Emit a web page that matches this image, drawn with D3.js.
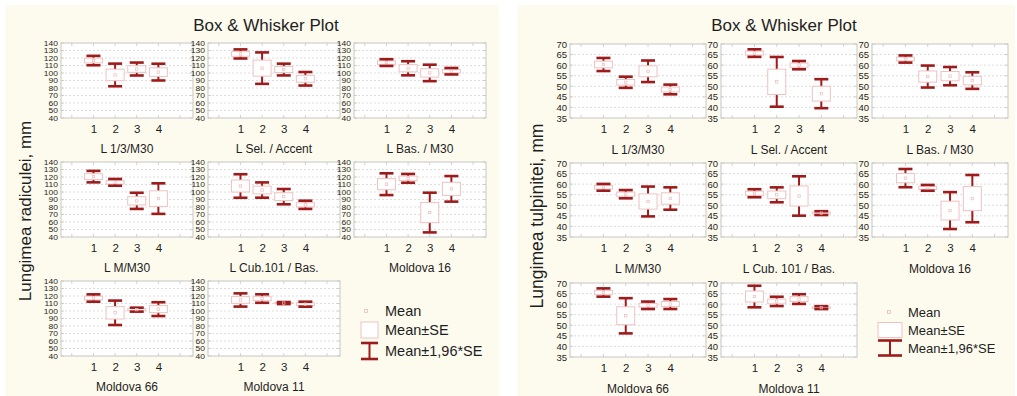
<!DOCTYPE html>
<html>
<head>
<meta charset="utf-8">
<script src="https://cdn.jsdelivr.net/npm/d3@7"></script>
<style>
  body { margin: 0; background: #ffffff; }
  svg { display: block; }
  text { font-family: "Liberation Sans", Arial, sans-serif; fill: #1e1e1e; }
</style>
</head>
<body>
<svg id="chart" width="1017" height="396"></svg>
<script>
// ---- data -------------------------------------------------------------
const categories = ["1", "2", "3", "4"];

const radicleGroups = ["L 1/3/M30", "L Sel. / Accent", "L Bas. / M30",
                       "L M/M30", "L Cub.101 / Bas.", "Moldova 16",
                       "Moldova 66", "Moldova 11"];
const stemGroups = ["L 1/3/M30", "L Sel. / Accent", "L Bas. / M30",
                    "L M/M30", "L Cub. 101 / Bas.", "Moldova 16",
                    "Moldova 66", "Moldova 11"];

// radicle length, mm: mean and standard error per group and category
const radicleMean = [
  [116.6,  97.4, 105.3, 101.2],
  [125.4, 106.5, 104.6,  92.3],
  [113.9, 106.3, 100.1, 102.4],
  [120.5, 112.9,  88.2,  91.2],
  [108.0, 102.6,  93.8,  82.9],
  [110.4, 118.2,  72.6, 104.2],
  [117.3,  97.6, 101.8, 102.5],
  [114.7, 116.6, 110.6, 109.1]
];
const radicleSE = [
  [3.2,  7.7, 4.4,  5.7],
  [3.1, 10.7, 4.0,  4.6],
  [2.3,  4.8, 5.6,  2.2],
  [3.9,  2.3, 5.5, 10.4],
  [8.0,  5.2, 5.2,  2.8],
  [7.4,  3.0, 13.5, 8.7],
  [2.5,  8.3, 1.35, 4.7],
  [4.5,  2.9, 0.7,  1.7]
];

// stem length, mm: mean and standard error per group and category
const stemMean = [
  [60.3, 51.9,  57.1, 48.5],
  [65.7, 52.1,  60.0, 46.5],
  [62.9, 54.6,  54.8, 52.7],
  [58.5, 55.25, 51.8, 53.2],
  [55.7, 54.95, 54.4, 46.3],
  [62.85, 58.25, 47.5, 53.15],
  [65.5, 54.5,  59.45, 60.05],
  [63.6, 61.3,  62.4, 58.35]
];
const stemSE = [
  [1.58, 1.35, 2.6,  1.17],
  [0.92, 6.0,  1.0,  3.5],
  [0.87, 2.65, 2.2,  2.0],
  [0.82, 1.0,  3.6,  2.7],
  [0.97, 1.8,  4.75, 0.46],
  [2.2,  0.7,  4.45, 5.7],
  [1.0,  4.25, 0.9,  1.2],
  [2.6,  1.12, 1.17, 0.35]
];

const radicleTicks = [40, 50, 60, 70, 80, 90, 100, 110, 120, 130, 140];
const stemTicks = [35, 40, 45, 50, 55, 60, 65, 70];

const chartTitle = "Box & Whisker Plot";
const radicleAxisTitle = "Lungimea radiculei, mm";
const stemAxisTitle = "Lungimea tulpinitei, mm";
const legendLabels = ["Mean", "Mean±SE", "Mean±1,96*SE"];

// ---- styling ----------------------------------------------------------
const BG = "#fdfbee";
const FRAME = "#c6c6c6";
const GRID = "#d4d4d4";
const WHISKER = "#9e1b1b";
const BOX = "#efc2c2";
const MEAN = "#ebbcbc";
const Z = 1.96;

const svg = d3.select("#chart");

function drawPanel(cfg) {
  const g = svg.append("g");

  g.append("rect")
    .attr("x", cfg.bg[0]).attr("y", cfg.bg[1])
    .attr("width", cfg.bg[2]).attr("height", cfg.bg[3])
    .attr("fill", BG);

  g.append("text")
    .attr("x", cfg.titleX).attr("y", 31)
    .attr("text-anchor", "middle")
    .style("font-size", "17px")
    .text(chartTitle);

  g.append("text")
    .attr("transform", `translate(${cfg.axisTitleX},${cfg.axisTitleY}) rotate(-90)`)
    .attr("text-anchor", "middle")
    .attr("dy", "0.35em")
    .style("font-size", cfg.axisTitleSize + "px")
    .text(cfg.axisTitle);

  cfg.groups.forEach((name, gi) => {
    const col = gi % 3, row = Math.floor(gi / 3);
    const x0 = cfg.cols[col], top = cfg.rows[row];
    const w = cfg.w, h = cfg.h;

    const x = d3.scaleLinear().domain([-0.5, 5.6]).range([x0, x0 + w]);
    const y = d3.scaleLinear().domain(d3.extent(cfg.ticks)).range([top + h, top]);

    const cell = g.append("g");

    cell.append("rect")
      .attr("x", x0).attr("y", top).attr("width", w).attr("height", h)
      .attr("fill", "#ffffff").attr("stroke", FRAME).attr("stroke-width", 1);

    // dotted horizontal grid
    cell.selectAll("line.grid")
      .data(cfg.ticks.slice(1, -1))
      .join("line")
      .attr("class", "grid")
      .attr("x1", x0).attr("x2", x0 + w)
      .attr("y1", d => y(d)).attr("y2", d => y(d))
      .attr("stroke", GRID).attr("stroke-width", 0.8)
      .attr("stroke-dasharray", "2,2");

    // small inner ticks on the frame
    const xt = [0, 1, 2, 3, 4, 5];
    cell.selectAll("line.xt")
      .data(xt.flatMap(v => [[v, top, top + 3], [v, top + h, top + h - 3]]))
      .join("line")
      .attr("class", "xt")
      .attr("x1", d => x(d[0])).attr("x2", d => x(d[0]))
      .attr("y1", d => d[1]).attr("y2", d => d[2])
      .attr("stroke", FRAME).attr("stroke-width", 0.8);
    cell.selectAll("line.yt")
      .data(cfg.ticks.flatMap(v => [[v, x0, x0 + 3], [v, x0 + w, x0 + w - 3]]))
      .join("line")
      .attr("class", "yt")
      .attr("x1", d => d[1]).attr("x2", d => d[2])
      .attr("y1", d => y(d[0])).attr("y2", d => y(d[0]))
      .attr("stroke", FRAME).attr("stroke-width", 0.8);

    // y axis labels (squeezed vertically when the ticks are tightly packed)
    const yAxis = d3.axisLeft(y).tickValues(cfg.ticks).tickSize(0).tickPadding(cfg.yPad);
    const ya = cell.append("g").attr("transform", `translate(${x0},0)`).call(yAxis);
    ya.select(".domain").remove();
    ya.selectAll(".tick text")
      .style("font-size", cfg.yTickSize + "px")
      .style("font-family", '"Liberation Sans", Arial, sans-serif')
      .attr("fill", "#2a2a2a")
      .attr("transform", `scale(1,${cfg.yTickSquash})`);

    // x axis labels
    const xAxis = d3.axisBottom(x).tickValues([1, 2, 3, 4])
      .tickFormat((d, i) => categories[i]).tickSize(0).tickPadding(0);
    const xa = cell.append("g").attr("transform", `translate(0,${top + h + cfg.xLabOff})`).call(xAxis);
    xa.select(".domain").remove();
    xa.selectAll("text")
      .style("font-size", "11.5px")
      .style("font-family", '"Liberation Sans", Arial, sans-serif')
      .attr("fill", "#1e1e1e");

    cell.append("text")
      .attr("x", x0 + w / 2).attr("y", top + h + cfg.subOff)
      .attr("text-anchor", "middle")
      .style("font-size", "12px")
      .text(name);

    const stats = categories.map((c, i) => ({
      pos: i + 1,
      mean: cfg.mean[gi][i],
      se: cfg.se[gi][i]
    }));

    const marks = cell.selectAll("g.mark").data(stats).join("g").attr("class", "mark");

    // whisker stem (mean ± 1.96·SE)
    marks.append("line")
      .attr("x1", d => x(d.pos)).attr("x2", d => x(d.pos))
      .attr("y1", d => y(d.mean + Z * d.se)).attr("y2", d => y(d.mean - Z * d.se))
      .attr("stroke", WHISKER).attr("stroke-width", 2);

    // box (mean ± SE)
    marks.append("rect")
      .attr("x", d => x(d.pos) - 9).attr("width", 18)
      .attr("y", d => y(d.mean + d.se))
      .attr("height", d => y(d.mean - d.se) - y(d.mean + d.se))
      .attr("fill", "#ffffff").attr("stroke", BOX).attr("stroke-width", 1);

    // caps
    [1, -1].forEach(s => {
      marks.append("line")
        .attr("x1", d => x(d.pos) - 7).attr("x2", d => x(d.pos) + 7)
        .attr("y1", d => y(d.mean + s * Z * d.se)).attr("y2", d => y(d.mean + s * Z * d.se))
        .attr("stroke", WHISKER).attr("stroke-width", 2.6);
    });

    // mean marker
    marks.append("rect")
      .attr("x", d => x(d.pos) - 1.2).attr("y", d => y(d.mean) - 1.2)
      .attr("width", 2.4).attr("height", 2.4)
      .attr("fill", "none").attr("stroke", MEAN).attr("stroke-width", 0.7);
  });

  // legend in the ninth cell
  const L = cfg.legend;
  const lg = g.append("g");
  lg.append("rect")
    .attr("x", L.markX - 1.5).attr("y", L.rows[0] - 1.5)
    .attr("width", 3).attr("height", 3)
    .attr("fill", "none").attr("stroke", MEAN).attr("stroke-width", 0.8);
  lg.append("rect")
    .attr("x", L.iconX).attr("y", L.rows[1] - L.iconH / 2)
    .attr("width", L.iconW).attr("height", L.iconH)
    .attr("fill", "#ffffff").attr("stroke", BOX).attr("stroke-width", 1);
  const wy0 = L.rows[2] - L.iconH / 2, wy1 = L.rows[2] + L.iconH / 2;
  lg.append("line")
    .attr("x1", L.iconX + L.iconW / 2).attr("x2", L.iconX + L.iconW / 2)
    .attr("y1", wy0).attr("y2", wy1)
    .attr("stroke", WHISKER).attr("stroke-width", 2);
  [wy0, wy1].forEach(yy => {
    lg.append("line")
      .attr("x1", L.iconX).attr("x2", L.iconX + L.iconW)
      .attr("y1", yy).attr("y2", yy)
      .attr("stroke", WHISKER).attr("stroke-width", 2.6);
  });
  lg.selectAll("text.leg")
    .data(legendLabels)
    .join("text")
    .attr("class", "leg")
    .attr("x", L.textX)
    .attr("y", (d, i) => L.rows[i])
    .attr("dy", "0.35em")
    .style("font-size", L.size + "px")
    .text(d => d);
}

drawPanel({
  bg: [5, 5, 494, 391],
  titleX: 266,
  axisTitle: radicleAxisTitle, axisTitleX: 25, axisTitleY: 211, axisTitleSize: 17,
  groups: radicleGroups, mean: radicleMean, se: radicleSE, ticks: radicleTicks,
  cols: [61, 208, 354], rows: [43, 162, 281], w: 132, h: 75,
  yPad: 3, yTickSize: 8.5, yTickSquash: 0.74, xLabOff: 7, subOff: 35,
  legend: { markX: 366, iconX: 361, iconW: 17, iconH: 16, textX: 385,
            rows: [311, 330, 351], size: 14.5 }
});

drawPanel({
  bg: [517, 5, 498, 391],
  titleX: 784,
  axisTitle: stemAxisTitle, axisTitleX: 537, axisTitleY: 216, axisTitleSize: 17.5,
  groups: stemGroups, mean: stemMean, se: stemSE, ticks: stemTicks,
  cols: [570, 721, 872], rows: [44, 163, 283], w: 136, h: 74,
  yPad: 3, yTickSize: 9.5, yTickSquash: 1, xLabOff: 7, subOff: 36,
  legend: { markX: 889, iconX: 878, iconW: 24, iconH: 15, textX: 908,
            rows: [312, 330, 348], size: 13 }
});
</script>
</body>
</html>
